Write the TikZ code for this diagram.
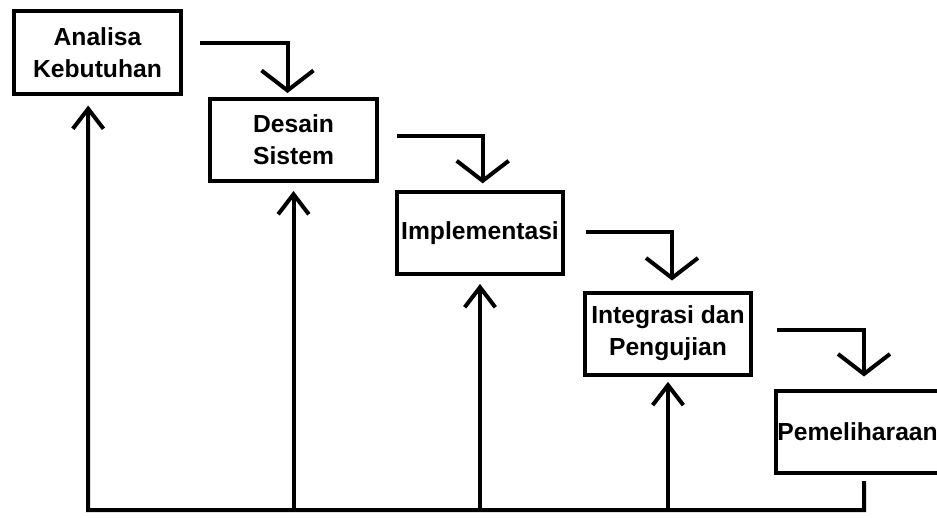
\documentclass[tikz,border=0pt]{standalone}
\usepackage{fontspec}
\setmainfont{Liberation Sans}
\usetikzlibrary{arrows.meta}
\tikzset{
    tahap/.style={draw, line width=3pt, minimum width=125pt, minimum height=61.5pt,
        align=center, inner sep=2pt, font=\bfseries\fontsize{18.5}{24}\selectfont},
    turun/.style={line width=3pt, -{Straight Barb[length=15pt,width=39pt]}, shorten >=5pt},
    naik/.style={line width=3pt, -{Straight Barb[length=15pt,width=23pt]}, shorten >=6pt}
}
\begin{document}
\begin{tikzpicture}[x=0.75pt,y=-0.75pt]
    \useasboundingbox (0,0) rectangle (937,517);
    \node[tahap] (analisa) at (97.5,52.5) {Analisa\\Kebutuhan};
    \node[tahap] (desain) at (293.5,140) {Desain\\Sistem};
    \node[tahap] (implementasi) at (480,233) {Implementasi};
    \node[tahap] (integrasi) at (668,333.5) {Integrasi dan\\Pengujian};
    \node[tahap, anchor=west, text width=130pt, align=left, inner xsep=1pt] (pemeliharaan) at (774,431.5) {Pemeliharaan};
    \coordinate (kanan) at (864,510);
    \coordinate (kiri) at (88,510);
    \draw[turun, shorten >=3pt] ([xshift=12.75pt,yshift=7pt]analisa.east) -| ([xshift=-4.5pt]desain.north);
    \draw[turun] ([xshift=13.5pt,yshift=3pt]desain.east) -| ([xshift=2pt]implementasi.north);
    \draw[turun, shorten >=7.5pt] ([xshift=15.75pt,yshift=0.75pt]implementasi.east) -| ([xshift=3pt]integrasi.north);
    \draw[turun, shorten >=9pt] ([xshift=18pt,yshift=3pt]integrasi.east) -| (kanan |- pemeliharaan.north);
    \draw[naik, shorten <=5pt, shorten >=7.5pt] (kanan |- pemeliharaan.south) -- (kanan) -- (kiri) -- ([xshift=-7pt]analisa.south);
    \draw[naik] (desain.south |- kiri) -- (desain.south);
    \draw[naik] (implementasi.south |- kiri) -- (implementasi.south);
    \draw[naik, shorten >=4pt] (integrasi.south |- kiri) -- (integrasi.south);
\end{tikzpicture}
\end{document}
